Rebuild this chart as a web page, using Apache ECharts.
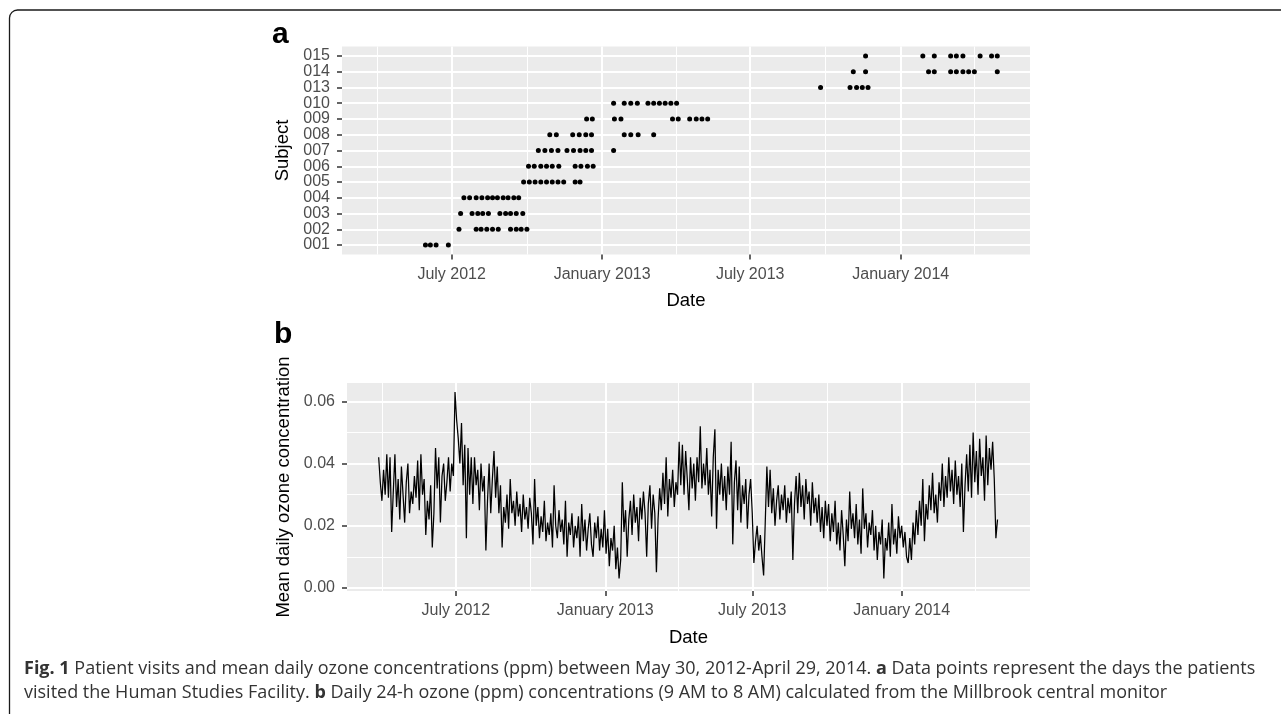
<!DOCTYPE html>
<html>
<head>
<meta charset="utf-8">
<script src="https://cdn.jsdelivr.net/npm/echarts@6/dist/echarts.min.js"></script>
<style>
  html, body { margin: 0; padding: 0; background: #fff; }
  #chart { width: 1281px; height: 714px; }
</style>
</head>
<body>
<div id="chart"></div>
<script>
// Panel a: subjects and the days they visited
var subjects = ['001', '002', '003', '004', '005', '006', '007', '008', '009', '010', '013', '014', '015'];
var visitDates = [
  ['2012-05-30', '2012-06-05', '2012-06-12', '2012-06-27'],
  ['2012-07-10', '2012-07-31', '2012-08-06', '2012-08-13', '2012-08-20', '2012-08-27', '2012-09-11', '2012-09-18', '2012-09-24', '2012-10-01'],
  ['2012-07-12', '2012-07-26', '2012-08-02', '2012-08-08', '2012-08-15', '2012-08-29', '2012-09-05', '2012-09-11', '2012-09-18', '2012-09-26'],
  ['2012-07-16', '2012-07-23', '2012-07-31', '2012-08-07', '2012-08-14', '2012-08-20', '2012-08-26', '2012-09-02', '2012-09-08', '2012-09-15', '2012-09-21'],
  ['2012-09-27', '2012-10-04', '2012-10-11', '2012-10-18', '2012-10-25', '2012-11-01', '2012-11-08', '2012-11-15', '2012-11-29', '2012-12-05'],
  ['2012-10-03', '2012-10-10', '2012-10-18', '2012-10-25', '2012-11-01', '2012-11-09', '2012-11-29', '2012-12-06', '2012-12-14', '2012-12-21'],
  ['2012-10-15', '2012-10-23', '2012-10-31', '2012-11-08', '2012-11-19', '2012-11-27', '2012-12-05', '2012-12-12', '2012-12-19', '2013-01-15'],
  ['2012-10-29', '2012-11-06', '2012-11-26', '2012-12-04', '2012-12-12', '2012-12-19', '2013-01-28', '2013-02-05', '2013-02-14', '2013-03-05'],
  ['2012-12-13', '2012-12-20', '2013-01-16', '2013-01-24', '2013-03-28', '2013-04-04', '2013-04-18', '2013-04-26', '2013-05-03', '2013-05-10'],
  ['2013-01-15', '2013-01-28', '2013-02-05', '2013-02-13', '2013-02-26', '2013-03-05', '2013-03-12', '2013-03-19', '2013-03-26', '2013-04-02'],
  ['2013-09-25', '2013-10-31', '2013-11-08', '2013-11-15', '2013-11-22'],
  ['2013-11-04', '2013-11-19', '2014-02-04', '2014-02-11', '2014-03-03', '2014-03-10', '2014-03-18', '2014-03-25', '2014-04-01', '2014-04-29'],
  ['2013-11-19', '2014-01-28', '2014-02-11', '2014-03-03', '2014-03-10', '2014-03-18', '2014-04-08', '2014-04-22', '2014-04-29']
];

// Panel b: mean daily ozone (ppm), one reading every 2 days from 2012-03-28
var ozoneStart = '2012-03-28';
var ozoneStepDays = 2;
var ozone = [
  0.042, 0.034,                                                                                                   // Mar 2012
  0.028, 0.038, 0.030, 0.043, 0.029, 0.042, 0.018, 0.031, 0.043, 0.026, 0.035, 0.022, 0.039, 0.030, 0.021,        // Apr
  0.034, 0.040, 0.024, 0.031, 0.027, 0.036, 0.029, 0.041, 0.025, 0.043, 0.030, 0.035, 0.017, 0.028, 0.022, 0.033, // May
  0.013, 0.024, 0.045, 0.032, 0.042, 0.021, 0.036, 0.040, 0.028, 0.034, 0.042, 0.031, 0.040, 0.036, 0.063,        // Jun
  0.054, 0.048, 0.040, 0.053, 0.033, 0.046, 0.016, 0.045, 0.030, 0.042, 0.027, 0.042, 0.033, 0.038, 0.025,        // Jul
  0.040, 0.031, 0.036, 0.012, 0.028, 0.040, 0.024, 0.035, 0.044, 0.029, 0.039, 0.024, 0.033, 0.013, 0.026, 0.021, // Aug
  0.030, 0.019, 0.035, 0.024, 0.028, 0.020, 0.031, 0.023, 0.027, 0.018, 0.030, 0.022, 0.026, 0.019, 0.029,        // Sep
  0.024, 0.014, 0.035, 0.020, 0.026, 0.016, 0.023, 0.018, 0.028, 0.015, 0.021, 0.017, 0.024, 0.013, 0.033,        // Oct
  0.020, 0.016, 0.025, 0.018, 0.022, 0.014, 0.028, 0.010, 0.021, 0.017, 0.024, 0.013, 0.020, 0.016, 0.023,        // Nov
  0.010, 0.027, 0.015, 0.022, 0.012, 0.019, 0.024, 0.014, 0.010, 0.021, 0.016, 0.023, 0.012, 0.019, 0.013, 0.025, // Dec
  0.011, 0.019, 0.007, 0.016, 0.012, 0.020, 0.006, 0.013, 0.003, 0.009, 0.034, 0.018, 0.025, 0.010, 0.022,        // Jan 2013
  0.028, 0.017, 0.030, 0.021, 0.026, 0.015, 0.029, 0.022, 0.031, 0.024, 0.010, 0.027, 0.033, 0.019,               // Feb
  0.030, 0.024, 0.005, 0.022, 0.032, 0.025, 0.037, 0.027, 0.042, 0.023, 0.035, 0.029, 0.038, 0.026, 0.034, 0.030, // Mar
  0.047, 0.033, 0.046, 0.030, 0.044, 0.035, 0.025, 0.042, 0.032, 0.040, 0.028, 0.042, 0.034, 0.052, 0.032,        // Apr
  0.040, 0.033, 0.045, 0.030, 0.038, 0.023, 0.042, 0.051, 0.019, 0.038, 0.030, 0.040, 0.028, 0.036, 0.025,        // May
  0.039, 0.030, 0.047, 0.014, 0.034, 0.041, 0.025, 0.039, 0.021, 0.033, 0.027, 0.035, 0.019, 0.030, 0.035,        // Jun
  0.024, 0.008, 0.015, 0.020, 0.012, 0.017, 0.010, 0.004, 0.021, 0.039, 0.026, 0.038, 0.024, 0.032, 0.020, 0.028, // Jul
  0.033, 0.022, 0.030, 0.025, 0.033, 0.021, 0.029, 0.024, 0.031, 0.009, 0.027, 0.036, 0.024, 0.037, 0.026,        // Aug
  0.033, 0.022, 0.035, 0.027, 0.031, 0.020, 0.034, 0.024, 0.029, 0.021, 0.030, 0.018, 0.026, 0.016, 0.028,        // Sep
  0.020, 0.027, 0.015, 0.024, 0.018, 0.028, 0.014, 0.021, 0.012, 0.025, 0.017, 0.007, 0.022, 0.015, 0.031, 0.019, // Oct
  0.024, 0.016, 0.027, 0.014, 0.022, 0.011, 0.032, 0.019, 0.024, 0.013, 0.021, 0.017, 0.025, 0.012, 0.020,        // Nov
  0.009, 0.018, 0.014, 0.022, 0.003, 0.016, 0.012, 0.021, 0.010, 0.027, 0.014, 0.019, 0.011, 0.023, 0.016,        // Dec
  0.020, 0.013, 0.018, 0.010, 0.008, 0.016, 0.009, 0.021, 0.014, 0.025, 0.017, 0.028, 0.020, 0.035, 0.015, 0.027, // Jan 2014
  0.022, 0.033, 0.025, 0.037, 0.024, 0.030, 0.021, 0.034, 0.028, 0.040, 0.026, 0.036, 0.029, 0.042,               // Feb
  0.031, 0.038, 0.027, 0.041, 0.030, 0.036, 0.026, 0.040, 0.018, 0.033, 0.043, 0.031, 0.046, 0.029, 0.050,        // Mar
  0.034, 0.044, 0.030, 0.048, 0.036, 0.042, 0.028, 0.049, 0.033, 0.045, 0.038, 0.047, 0.035, 0.016, 0.022         // Apr
];

// axis breaks
var dateMin = '2012-02-18';
var dateMax = '2014-06-08';
var dateTicks = ['2012-07-01', '2013-01-01', '2013-07-01', '2014-01-01'];
var dateTickLabels = ['July 2012', 'January 2013', 'July 2013', 'January 2014'];
var dateMinorTicks = ['2012-04-01', '2012-10-01', '2013-04-01', '2013-10-01', '2014-04-01'];
var ozoneTicks = [0, 0.02, 0.04, 0.06];
var ozoneMinorTicks = [0.01, 0.03, 0.05];

// dates become day numbers on a plain value axis (time axis rejects custom ticks)
function ts(s) { return Date.UTC(+s.slice(0, 4), +s.slice(5, 7) - 1, +s.slice(8, 10)) / 86400000; }

var majorTs = dateTicks.map(ts);
var minorTs = dateMinorTicks.map(ts);
// subject rows split over two axes so ECharts does not drop crowded labels
var subjectEven = [], subjectOdd = [];
subjects.forEach(function (s, i) { (i % 2 ? subjectOdd : subjectEven).push(i); });

var visitData = [];
visitDates.forEach(function (days, i) {
  days.forEach(function (d) { visitData.push([ts(d), i]); });
});

var ozoneData = ozone.map(function (v, i) {
  return [ts(ozoneStart) + i * ozoneStepDays, v];
});

var font = 'Liberation Sans';
var tickLabel = { color: '#4D4D4D', fontSize: 16, fontFamily: font, showMinLabel: true, showMaxLabel: true };
var titleStyle = { color: '#000', fontSize: 18.5, fontFamily: font };
var tickLine = { color: '#333', width: 1.5 };

function minorX(grid) {
  return {
    gridIndex: grid, type: 'value', position: 'bottom', min: ts(dateMin), max: ts(dateMax),
    axisLine: { show: false, onZero: false },
    axisTick: { show: false, customValues: minorTs },
    axisLabel: { show: false, customValues: minorTs },
    splitLine: { show: true, lineStyle: { color: '#fff', width: 1 } }
  };
}
function majorX(grid) {
  return {
    gridIndex: grid, type: 'value', position: 'bottom', min: ts(dateMin), max: ts(dateMax),
    name: 'Date', nameLocation: 'middle', nameGap: 37, nameTextStyle: titleStyle,
    axisLine: { show: false, onZero: false },
    axisTick: { show: true, length: 5, customValues: majorTs, lineStyle: tickLine },
    axisLabel: Object.assign({
      customValues: majorTs, margin: 12,
      formatter: function (v) {
        var i = majorTs.indexOf(Math.round(+v));
        return i >= 0 ? dateTickLabels[i] : '';
      }
    }, tickLabel),
    splitLine: { show: true, lineStyle: { color: '#fff', width: 2 } }
  };
}
function subjectY(rows, withName) {
  var ax = {
    gridIndex: 0, type: 'value', position: 'left', min: -0.6, max: 12.6,
    axisLine: { show: false, onZero: false },
    axisTick: { show: true, length: 5, customValues: rows, lineStyle: tickLine },
    axisLabel: Object.assign({
      customValues: rows, margin: 12,
      formatter: function (v) { return subjects[Math.round(v)]; }
    }, tickLabel),
    splitLine: { show: true, lineStyle: { color: '#fff', width: 2 } }
  };
  if (withName) {
    ax.name = 'Subject';
    ax.nameLocation = 'middle';
    ax.nameGap = 48;
    ax.nameTextStyle = titleStyle;
  }
  return ax;
}

var chart = echarts.init(document.getElementById('chart'));

var captionFont = 'Open Sans';
var capRich = {
  b: { fontFamily: captionFont, fontWeight: 'bold', fontSize: 18, color: '#222' },
  n: { fontFamily: captionFont, fontSize: 18, color: '#333' }
};

chart.setOption({
  animation: false,
  backgroundColor: '#fff',
  grid: [
    { left: 342, top: 46.5, width: 688, height: 208, show: true, backgroundColor: '#EBEBEB', borderWidth: 0 },
    { left: 347, top: 383, width: 683, height: 208, show: true, backgroundColor: '#EBEBEB', borderWidth: 0 }
  ],
  xAxis: [minorX(0), majorX(0), minorX(1), majorX(1)],
  yAxis: [
    subjectY(subjectEven, true),
    subjectY(subjectOdd, false),
    {
      gridIndex: 1, type: 'value', position: 'left', min: -0.001, max: 0.0659,
      axisLine: { show: false, onZero: false },
      axisTick: { show: false, customValues: ozoneMinorTicks },
      axisLabel: { show: false, customValues: ozoneMinorTicks },
      splitLine: { show: true, lineStyle: { color: '#fff', width: 1 } }
    },
    {
      gridIndex: 1, type: 'value', position: 'left', min: -0.001, max: 0.0659,
      name: 'Mean daily ozone concentration', nameLocation: 'middle', nameGap: 54, nameTextStyle: titleStyle,
      axisLine: { show: false, onZero: false },
      axisTick: { show: true, length: 5, customValues: ozoneTicks, lineStyle: tickLine },
      axisLabel: Object.assign({
        customValues: ozoneTicks, margin: 12,
        formatter: function (v) { return (+v).toFixed(2); }
      }, tickLabel),
      splitLine: { show: true, lineStyle: { color: '#fff', width: 2 } }
    }
  ],
  series: [
    {
      type: 'scatter', xAxisIndex: 1, yAxisIndex: 0,
      symbol: 'circle', symbolSize: 5,
      itemStyle: { color: '#000', opacity: 1 },
      data: visitData
    },
    {
      type: 'line', xAxisIndex: 3, yAxisIndex: 3,
      showSymbol: false, symbol: 'none',
      lineStyle: { color: '#000', width: 1.25 },
      data: ozoneData
    }
  ],
  graphic: [
    {
      type: 'rect', silent: true,
      shape: { x: 9.5, y: 10, width: 1300, height: 730, r: 8 },
      style: { fill: 'none', stroke: '#1a1a1a', lineWidth: 1.3 }
    },
    {
      type: 'text', left: 272, top: 20,
      style: { text: 'a', font: 'bold 30px "Liberation Sans"', fill: '#000' }
    },
    {
      type: 'text', left: 274, top: 320,
      style: { text: 'b', font: 'bold 30px "Liberation Sans"', fill: '#000' }
    },
    {
      type: 'text', x: 24, y: 668.5,
      style: {
        text: '{b|Fig. 1} {n|Patient visits and mean daily ozone concentrations (ppm) between May 30, 2012-April 29, 2014.} {b|a} {n|Data points represent the days the patients}',
        font: '18px "Open Sans"', fill: '#333', verticalAlign: 'middle', rich: capRich
      }
    },
    {
      type: 'text', x: 24, y: 693,
      style: {
        text: '{n|visited the Human Studies Facility.} {b|b} {n|Daily 24-h ozone (ppm) concentrations (9 AM to 8 AM) calculated from the Millbrook central monitor}',
        font: '18px "Open Sans"', fill: '#333', verticalAlign: 'middle', rich: capRich
      }
    }
  ]
});
</script>
</body>
</html>
